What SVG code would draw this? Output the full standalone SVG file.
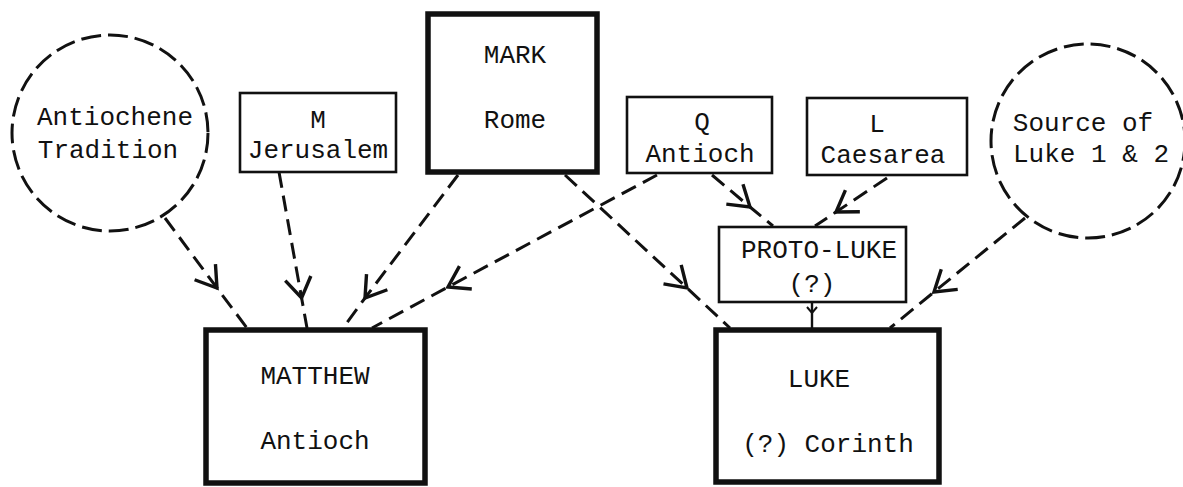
<svg xmlns="http://www.w3.org/2000/svg" width="1183" height="487" viewBox="0 0 1183 487">
<style>
  text { font-family: "Liberation Mono", "DejaVu Sans Mono", monospace; font-size: 26px; fill: #111; text-anchor: middle; }
  .box { fill: #fff; stroke: #111; stroke-width: 2.6; }
  .thick { fill: #fff; stroke: #111; stroke-width: 5.5; }
  .circ { fill: none; stroke: #111; stroke-width: 3; stroke-dasharray: 20 7; }
  .conn { fill: none; stroke: #111; stroke-width: 3; stroke-dasharray: 16 8; marker-mid: url(#v); }
  .short { fill: none; stroke: #111; stroke-width: 2.4; marker-mid: url(#vs); }
</style>
<defs>
  <marker id="v" markerUnits="userSpaceOnUse" markerWidth="50" markerHeight="50" viewBox="-25 -25 50 50" refX="0" refY="0" orient="auto">
    <path d="M -20 -13 L 0 0 L -20 13" fill="none" stroke="#111" stroke-width="3.4" stroke-linejoin="miter"/>
  </marker>
  <marker id="vs" markerUnits="userSpaceOnUse" markerWidth="20" markerHeight="20" viewBox="-10 -10 20 20" refX="0" refY="0" orient="auto">
    <path d="M -6 -5 L 0 0 L -6 5" fill="none" stroke="#111" stroke-width="2"/>
  </marker>
</defs>

<g id="connectors">
  <polyline class="conn" points="165,218 217,288 247,328"/>
  <polyline class="conn" points="279,172 301.6,298 307,328"/>
  <polyline class="conn" points="458,175 365,298 343,328"/>
  <polyline class="conn" points="657,175 448,287 372,328"/>
  <polyline class="conn" points="565,175 687,288 730,328"/>
  <polyline class="conn" points="712,175 750,207 773,226"/>
  <polyline class="conn" points="887,178 836,212 815,226"/>
  <polyline class="conn" points="1025,218 934,292 890,328"/>
  <polyline class="short" points="812,302 812,313 812,328"/>
</g>

<g id="antiochene">
  <circle class="circ" cx="110" cy="133" r="98"/>
  <text x="115" y="125">Antiochene</text>
  <text x="108" y="158">Tradition</text>
</g>

<g id="m">
  <rect class="box" x="240" y="93" width="156" height="79"/>
  <text x="318" y="128">M</text>
  <text x="318" y="158">Jerusalem</text>
</g>

<g id="mark">
  <rect class="thick" x="428" y="14" width="169" height="158"/>
  <text x="515" y="63">MARK</text>
  <text x="515" y="128">Rome</text>
</g>

<g id="q">
  <rect class="box" x="627" y="97" width="145" height="76"/>
  <text x="702" y="130">Q</text>
  <text x="700" y="162">Antioch</text>
</g>

<g id="l">
  <rect class="box" x="807" y="98" width="160" height="77"/>
  <text x="877" y="132">L</text>
  <text x="883" y="163">Caesarea</text>
</g>

<g id="source">
  <circle class="circ" cx="1088" cy="141" r="97"/>
  <text x="1083" y="131">Source of</text>
  <text x="1091" y="162">Luke 1 &amp; 2</text>
</g>

<g id="protoluke">
  <rect class="box" x="719" y="227" width="187" height="75"/>
  <text x="819" y="258">PROTO-LUKE</text>
  <text x="812" y="292">(?)</text>
</g>

<g id="matthew">
  <rect class="thick" x="206" y="330" width="219" height="153"/>
  <text x="315" y="384">MATTHEW</text>
  <text x="315" y="449">Antioch</text>
</g>

<g id="luke">
  <rect class="thick" x="716" y="330" width="223" height="152"/>
  <text x="819" y="387">LUKE</text>
  <text x="828" y="452">(?) Corinth</text>
</g>
</svg>
